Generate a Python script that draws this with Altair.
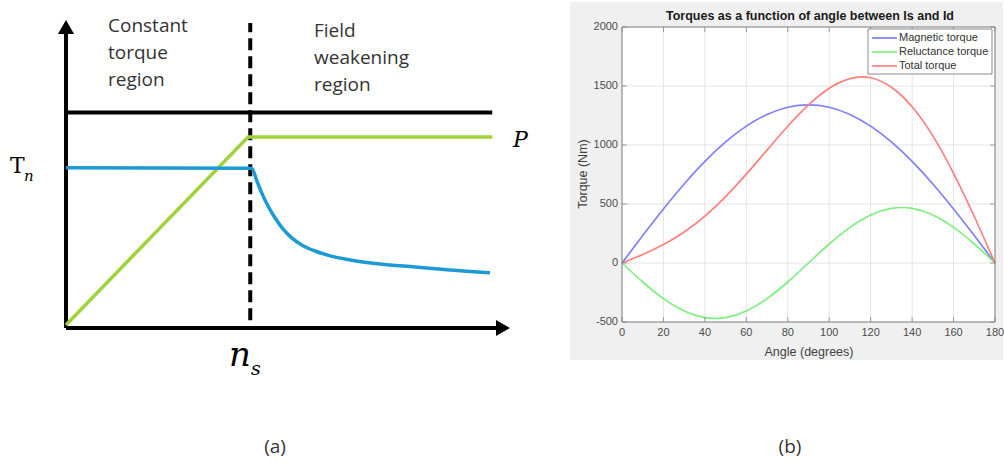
import altair as alt
import pandas as pd

# ---------------- Panel (a): schematic torque / power vs speed ----------------
speed_power = [0, 41, 96]
power = [1, 62, 62]
speed_torque = [0, 41.8, 43.0, 44.1, 45.5, 47.1, 48.9, 50.9, 53.2, 56.1, 59.5, 64.0, 70.7, 78.6, 86.5, 95.5]
torque = [52, 51.9, 47.7, 43.8, 39.6, 35.7, 32.1, 29.2, 26.9, 25.0, 23.4, 22.1, 20.8, 19.8, 18.8, 17.9]
base_speed = 41.5
upper_limit = 70
line_end = 96
axis_end = 100
region_left = ["Constant", "torque", "region"]
region_right = ["Field", "weakening", "region"]

# ---------------- Panel (b): torques vs angle ----------------
angles = [0, 10, 20, 30, 40, 50, 60, 70, 80, 90, 100, 110, 120, 130, 140, 150, 160, 170, 180]
magnetic = [0, 233, 458, 670, 861, 1026, 1160, 1259, 1320, 1340, 1320, 1259, 1160, 1026, 861, 670, 458, 233, 0]
reluctance = [0, -161, -302, -407, -463, -463, -407, -302, -161, 0, 161, 302, 407, 463, 463, 407, 302, 161, 0]
total = [0, 72, 156, 263, 398, 563, 753, 957, 1159, 1340, 1481, 1563, 1570, 1489, 1324, 1077, 760, 394, 0]
series_names = ["Magnetic torque", "Reluctance torque", "Total torque"]
series_colors = ["#7f7fff", "#7ff07f", "#ff7f7f"]
x_ticks = [0, 20, 40, 60, 80, 100, 120, 140, 160, 180]
y_ticks = [-500, 0, 500, 1000, 1500, 2000]
title_b = "Torques as a function of angle between Is and Id"
x_title_b = "Angle (degrees)"
y_title_b = "Torque (Nm)"

TEXT_FONT = "Open Sans"
MATH_FONT = "DejaVu Serif"
MAT_FONT = "Liberation Sans"

one = pd.DataFrame({"a": [0]})


def label(txt, x, y, size, style="normal", font=MATH_FONT, align="left", baseline="alphabetic",
          color="black", weight="normal", angle=0):
    return alt.Chart(pd.DataFrame({"t": [txt]})).mark_text(
        font=font, fontSize=size, fontStyle=style, fontWeight=weight, color=color,
        align=align, baseline=baseline, angle=angle
    ).encode(x=alt.value(x), y=alt.value(y), text="t:N")


# ---------- panel (a) ----------
xa = alt.Scale(domain=[0, axis_end], range=[66, 510], nice=False, zero=False)
ya = alt.Scale(domain=[0, axis_end], range=[328, 20], nice=False, zero=False)

seg_df = pd.DataFrame({
    "x": [0, 0, 0],
    "x2": [0, axis_end - 3, line_end],
    "y": [0, 0, upper_limit],
    "y2": [axis_end - 4, 0, upper_limit],
})
segs = alt.Chart(seg_df).mark_rule(color="black", strokeWidth=4).encode(
    x=alt.X("x:Q", scale=xa, axis=None),
    x2="x2:Q",
    y=alt.Y("y:Q", scale=ya, axis=None),
    y2="y2:Q",
)
arrow_up = alt.Chart(one).mark_point(
    shape="triangle-up", filled=True, color="black", size=260, opacity=1, yOffset=7
).encode(x=alt.XDatum(0, scale=xa, axis=None), y=alt.YDatum(axis_end, scale=ya, axis=None))
arrow_right = alt.Chart(one).mark_point(
    shape="triangle-right", filled=True, color="black", size=260, opacity=1, xOffset=-7
).encode(x=alt.XDatum(axis_end, scale=xa, axis=None), y=alt.YDatum(0, scale=ya, axis=None))

dashed = alt.Chart(one).mark_rule(
    color="black", strokeWidth=4, strokeDash=[12, 6]
).encode(
    x=alt.XDatum(base_speed, scale=xa, axis=None),
    y=alt.YDatum(2.5, scale=ya, axis=None),
    y2=alt.Y2Datum(99),
)

p_df = pd.DataFrame({"n": speed_power, "p": power})
p_line = alt.Chart(p_df).mark_line(color="#a0d23c", strokeWidth=3.5).encode(
    x=alt.X("n:Q", scale=xa, axis=None), y=alt.Y("p:Q", scale=ya, axis=None)
)
t_df = pd.DataFrame({"n": speed_torque, "t": torque})
t_line = alt.Chart(t_df).mark_line(color="#1c9ad6", strokeWidth=3.5, interpolate="monotone").encode(
    x=alt.X("n:Q", scale=xa, axis=None), y=alt.Y("t:Q", scale=ya, axis=None)
)

texts_a = []
for i, w in enumerate(region_left):
    texts_a.append(label(w, 108, 26 + 27 * i, 19, font=TEXT_FONT, baseline="middle", color="#333333"))
for i, w in enumerate(region_right):
    texts_a.append(label(w, 314, 31 + 27 * i, 19, font=TEXT_FONT, baseline="middle", color="#333333"))

texts_a += [
    label("P", 513, 147, 22, "italic"),
    label("T", 10, 173, 22),
    label("n", 24, 181, 15, "italic"),
    label("n", 229, 366, 34, "italic"),
    label("s", 251, 375, 19, "italic"),
    label("(a)", 275, 447, 19, font=TEXT_FONT, align="center", baseline="middle", color="#333333"),
    label("(b)", 790, 447, 19, font=TEXT_FONT, align="center", baseline="middle", color="#333333"),
]

panel_a = alt.layer(segs, dashed, p_line, t_line, arrow_up, arrow_right, *texts_a)

# ---------- panel (b) ----------
xb = alt.Scale(domain=[0, 180], range=[622, 995], nice=False, zero=False)
yb = alt.Scale(domain=[-500, 2000], range=[322, 27], nice=False, zero=False)

gray_bg = alt.Chart(one).mark_rect(color="#f0f0f0").encode(
    x=alt.value(570), x2=alt.value(1003), y=alt.value(2), y2=alt.value(360)
)
plot_bg = alt.Chart(one).mark_rect(color="white").encode(
    x=alt.XDatum(0, scale=xb, axis=None), x2=alt.X2Datum(180),
    y=alt.YDatum(-500, scale=yb, axis=None), y2=alt.Y2Datum(2000),
)
gx = alt.Chart(pd.DataFrame({"v": x_ticks[1:-1]})).mark_rule(color="#e4e4e4", strokeWidth=1).encode(
    x=alt.X("v:Q", scale=xb, axis=None), y=alt.YDatum(-500, scale=yb, axis=None), y2=alt.Y2Datum(2000)
)
gy = alt.Chart(pd.DataFrame({"v": y_ticks[1:-1]})).mark_rule(color="#e4e4e4", strokeWidth=1).encode(
    y=alt.Y("v:Q", scale=yb, axis=None), x=alt.XDatum(0, scale=xb, axis=None), x2=alt.X2Datum(180)
)

rows = []
for name, vals in zip(series_names, [magnetic, reluctance, total]):
    for a, v in zip(angles, vals):
        rows.append({"angle": a, "torque": v, "series": name})
curve_df = pd.DataFrame(rows)
curves = alt.Chart(curve_df).mark_line(strokeWidth=1.7, interpolate="natural").encode(
    x=alt.X("angle:Q", scale=xb, axis=None),
    y=alt.Y("torque:Q", scale=yb, axis=None),
    color=alt.Color("series:N", scale=alt.Scale(domain=series_names, range=series_colors), legend=None),
    detail="series:N",
)
frame = alt.Chart(one).mark_rect(fillOpacity=0, stroke="#7a7a7a", strokeWidth=1).encode(
    x=alt.XDatum(0, scale=xb, axis=None), x2=alt.X2Datum(180),
    y=alt.YDatum(-500, scale=yb, axis=None), y2=alt.Y2Datum(2000),
)
tick_bottom = alt.Chart(pd.DataFrame({"v": x_ticks})).mark_tick(
    orient="vertical", size=5, thickness=1, color="#7a7a7a", yOffset=-2.5
).encode(x=alt.X("v:Q", scale=xb, axis=None), y=alt.YDatum(-500, scale=yb, axis=None))
tick_top = alt.Chart(pd.DataFrame({"v": x_ticks})).mark_tick(
    orient="vertical", size=5, thickness=1, color="#7a7a7a", yOffset=2.5
).encode(x=alt.X("v:Q", scale=xb, axis=None), y=alt.YDatum(2000, scale=yb, axis=None))
tick_left = alt.Chart(pd.DataFrame({"v": y_ticks})).mark_tick(
    orient="horizontal", size=5, thickness=1, color="#7a7a7a", xOffset=2.5
).encode(y=alt.Y("v:Q", scale=yb, axis=None), x=alt.XDatum(0, scale=xb, axis=None))
tick_right = alt.Chart(pd.DataFrame({"v": y_ticks})).mark_tick(
    orient="horizontal", size=5, thickness=1, color="#7a7a7a", xOffset=-2.5
).encode(y=alt.Y("v:Q", scale=yb, axis=None), x=alt.XDatum(180, scale=xb, axis=None))

x_lab_df = pd.DataFrame({"v": x_ticks, "lab": [str(v) for v in x_ticks]})
x_labels = alt.Chart(x_lab_df).mark_text(
    font=MAT_FONT, fontSize=11, color="#4d4d4d", align="center", baseline="top", dy=5
).encode(x=alt.X("v:Q", scale=xb, axis=None), y=alt.YDatum(-500, scale=yb, axis=None), text="lab:N")
y_lab_df = pd.DataFrame({"v": y_ticks, "lab": [str(v) for v in y_ticks]})
y_labels = alt.Chart(y_lab_df).mark_text(
    font=MAT_FONT, fontSize=11, color="#4d4d4d", align="right", baseline="middle", dx=-4
).encode(y=alt.Y("v:Q", scale=yb, axis=None), x=alt.XDatum(0, scale=xb, axis=None), text="lab:N")

x_title = label(x_title_b, 809, 352, 12.5, font=MAT_FONT, align="center", baseline="middle", color="#404040")
y_title = label(y_title_b, 583, 174, 12.5, font=MAT_FONT, align="center", baseline="middle", color="#404040",
                angle=270)
title_mark = label(title_b, 810, 16, 12.5, font=MAT_FONT, align="center", baseline="middle", color="#1a1a1a",
                   weight="bold")

legend_box = alt.Chart(one).mark_rect(fill="white", stroke="#8c8c8c", strokeWidth=1).encode(
    x=alt.value(868), x2=alt.value(992), y=alt.value(29), y2=alt.value(74)
)
legend_layers = [legend_box]
for i, (name, col) in enumerate(zip(series_names, series_colors)):
    yy = 38 + 14 * i
    legend_layers.append(alt.Chart(one).mark_rule(color=col, strokeWidth=1.7).encode(
        x=alt.value(872), x2=alt.value(897), y=alt.value(yy)))
    legend_layers.append(label(name, 899, yy, 11, font=MAT_FONT, baseline="middle", color="#333333"))

panel_b = alt.layer(gray_bg, plot_bg, gx, gy, curves, frame, tick_bottom, tick_top, tick_left, tick_right,
                    x_labels, y_labels, x_title, y_title, title_mark, *legend_layers)

chart = alt.layer(panel_a, panel_b).resolve_scale(x="independent", y="independent").properties(
    width=1004, height=464, padding=0, autosize=alt.AutoSizeParams(type="none"), background="white"
).configure_view(stroke=None)

chart.save("out.html", embed_options={"renderer": "svg", "actions": False})
